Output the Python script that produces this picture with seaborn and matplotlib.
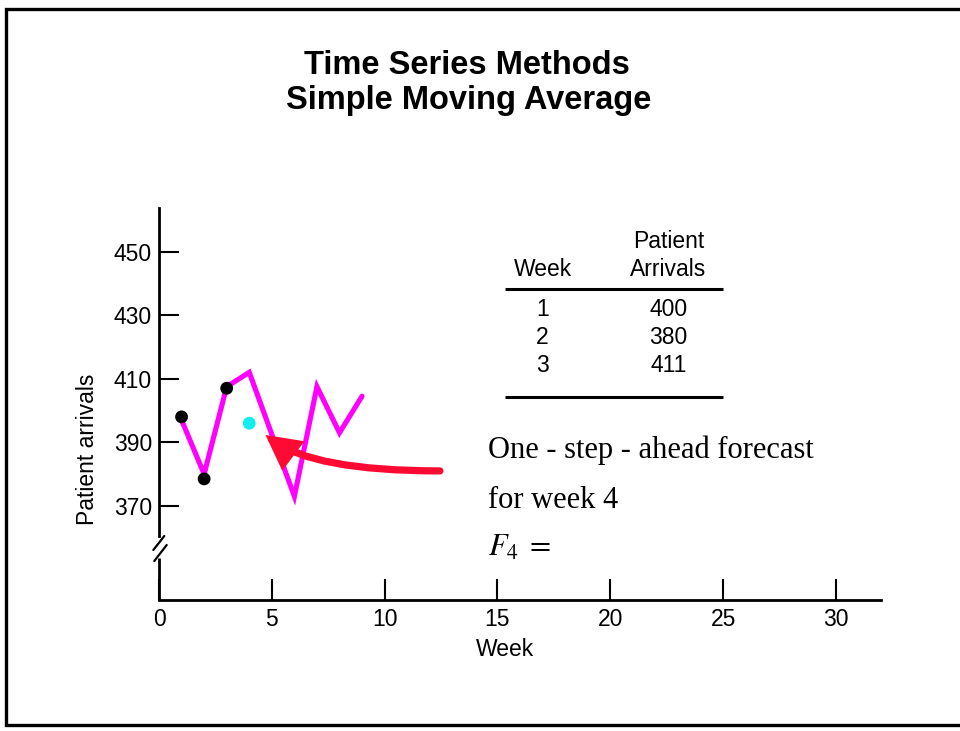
import matplotlib
matplotlib.use("Agg")
import matplotlib.pyplot as plt
import seaborn as sns
import pandas as pd
from matplotlib.lines import Line2D
from matplotlib.patches import ArrowStyle

# --- data -------------------------------------------------------------
weeks = [1, 2, 3, 4, 5, 6, 7, 8, 9]
arrivals_trace = [397, 380, 407.5, 412, 392.5, 373, 407.5, 393, 404.5]

observed_weeks = [1, 2, 3]
observed_arrivals = [398, 378.5, 407]

forecast_week = [4]
forecast_arrivals = [396]

table_weeks = ["1", "2", "3"]
table_arrivals = ["400", "380", "411"]

x_ticks = [0, 5, 10, 15, 20, 25, 30]
y_ticks = [370, 390, 410, 430, 450]

title_lines = ["Time Series Methods", "Simple Moving Average"]
note_lines = ["One - step - ahead forecast", "for week 4"]

# --- style ------------------------------------------------------------
sns.set_style("white")
plt.rcParams["font.family"] = ["Liberation Sans", "DejaVu Sans"]
plt.rcParams["mathtext.fontset"] = "stix"
plt.rcParams["text.color"] = "black"
plt.rcParams["axes.labelcolor"] = "black"
plt.rcParams["xtick.color"] = "black"
plt.rcParams["ytick.color"] = "black"

W, H = 960, 731
fig = plt.figure(figsize=(W / 100, H / 100), dpi=100)


def fx(px):
    return px / W


def fy(py):
    return 1 - py / H


# axes placed so the y-axis sits at x=159 px and the x-axis at y=600 px
ax = fig.add_axes([fx(159), fy(600), fx(881) - fx(159), fy(208.3) - fy(600)])
ax.set_xlim(0, 32)
ax.set_ylim(340.4, 463.6)

trace = pd.DataFrame({"week": weeks, "arrivals": arrivals_trace})
sns.lineplot(data=trace, x="week", y="arrivals", ax=ax, color="#FF00FF",
             linewidth=3.7, solid_joinstyle="miter", zorder=2)

obs = pd.DataFrame({"week": observed_weeks, "arrivals": observed_arrivals})
sns.scatterplot(data=obs, x="week", y="arrivals", ax=ax, color="black",
                s=85, edgecolor="none", zorder=3)

fc = pd.DataFrame({"week": forecast_week, "arrivals": forecast_arrivals})
sns.scatterplot(data=fc, x="week", y="arrivals", ax=ax, color="#12EEEE",
                s=85, edgecolor="none", zorder=3)

# curved pointer toward the forecast point: leaves horizontally, bends up at the head
ax.annotate("", xy=(4.72, 392.3), xytext=(12.45, 381.0),
            arrowprops=dict(arrowstyle=ArrowStyle("-|>", head_length=0.85, head_width=0.45),
                            mutation_scale=20, lw=5.2, color="#FF0A32",
                            connectionstyle="angle3,angleA=0,angleB=-37",
                            shrinkA=0, shrinkB=0, capstyle="round",
                            joinstyle="miter"),
            zorder=4)

# axes styling
for side in ("top", "right"):
    ax.spines[side].set_visible(False)
ax.spines["bottom"].set_linewidth(2.0)
ax.spines["left"].set_linewidth(2.0)
ax.spines["bottom"].set_color("black")
ax.spines["left"].set_color("black")
break_top, break_bottom = 360.5, 353.6
ax.spines["left"].set_bounds(break_top, 463.6)
ax.plot([0, 0], [340.4, break_bottom], color="black", lw=2.0,
        clip_on=False, solid_capstyle="butt", zorder=5)

ax.set_xticks(x_ticks)
ax.set_yticks(y_ticks)
ax.set_xticklabels([str(t) for t in x_ticks])
ax.set_yticklabels([str(t) for t in y_ticks])
ax.tick_params(axis="x", direction="in", length=15, width=1.5, pad=6,
               labelsize=16.5, colors="black", bottom=True)
ax.tick_params(axis="y", direction="in", length=14.4, width=1.5, pad=5,
               labelsize=16.5, colors="black", left=True)
ax.set_xlabel("")
ax.set_ylabel("")

# axis break marks
for (x0, y0, x1, y1) in [(153.3, 550, 164.3, 536), (154.3, 561, 166.7, 545)]:
    fig.add_artist(Line2D([fx(x0), fx(x1)], [fy(y0), fy(y1)],
                          transform=fig.transFigure, color="black", lw=1.6))

# axis titles
fig.text(fx(87), fy(449), "Patient arrivals", rotation=90, ha="center",
         va="center", fontsize=16.5)
fig.text(fx(505), fy(650), "Week", ha="center", va="center", fontsize=16.5)

# heading
fig.text(fx(467), fy(74), title_lines[0], ha="center", va="baseline",
         fontsize=23.5, fontweight="bold")
fig.text(fx(469), fy(109.3), title_lines[1], ha="center", va="baseline",
         fontsize=23.5, fontweight="bold")

# small data table
col_week, col_arr = 542.5, 668.3
fig.text(fx(col_arr), fy(247.7), "Patient", ha="center", va="baseline", fontsize=16.5)
fig.text(fx(col_week), fy(275.7), "Week", ha="center", va="baseline", fontsize=16.5)
fig.text(fx(col_arr), fy(275.7), "Arrivals", ha="center", va="baseline", fontsize=16.5)
row_baselines = [316, 344, 372]
for wk, arr, yb in zip(table_weeks, table_arrivals, row_baselines):
    fig.text(fx(col_week), fy(yb), wk, ha="center", va="baseline", fontsize=16.5)
    fig.text(fx(col_arr), fy(yb), arr, ha="center", va="baseline", fontsize=16.5)
for yr in (289, 396.7):
    fig.add_artist(Line2D([fx(505), fx(722.7)], [fy(yr), fy(yr)],
                          transform=fig.transFigure, color="black", lw=2.2,
                          solid_capstyle="butt"))

# forecast note
serif = ["Liberation Serif", "DejaVu Serif"]
fig.text(fx(488), fy(458), note_lines[0], ha="left", va="baseline",
         fontsize=22, family=serif)
fig.text(fx(488), fy(507.5), note_lines[1], ha="left", va="baseline",
         fontsize=22, family=serif)
fig.text(fx(488), fy(556), r"$F_{4}\;=$", ha="left", va="baseline",
         fontsize=22, family=serif)

# slide frame (open on the right)
fig.add_artist(Line2D([fx(965), fx(5.5), fx(5.5), fx(965)],
                      [fy(8.5), fy(8.5), fy(725), fy(725)],
                      transform=fig.transFigure, color="black", lw=2.4,
                      solid_joinstyle="miter"))

fig.savefig("out.png", dpi=100)
